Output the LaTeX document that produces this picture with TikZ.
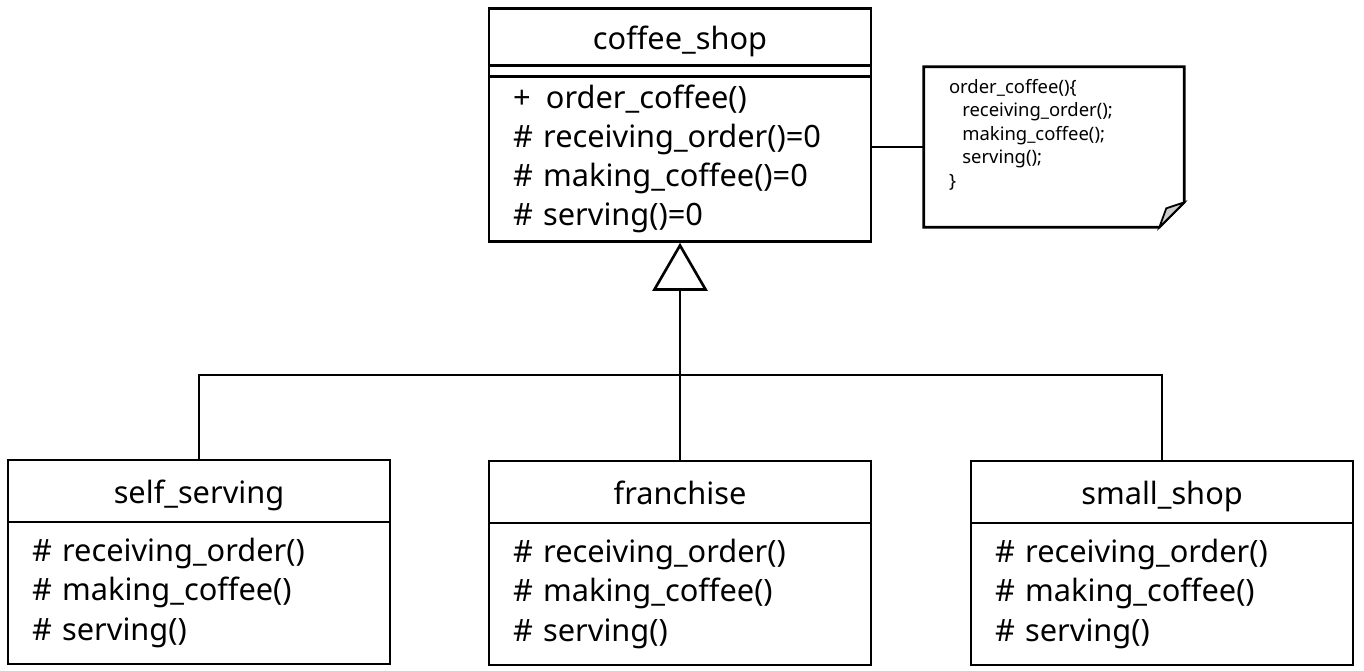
\documentclass[tikz,border=0pt]{standalone}
\usepackage{fontspec}
\setmainfont{Noto Sans}
\usepackage{tikz}
\usetikzlibrary{calc, positioning, arrows.meta}

\begin{document}
\begin{tikzpicture}[x=0.02cm, y=0.02cm, line width=1.5pt,
    classname/.style={draw, minimum width=7.64cm, inner sep=0pt, text height=1.65em, text depth=0.2em,
      font=\fontsize{17.5}{22}\selectfont},
    classband/.style={draw, minimum width=7.64cm, inner sep=0pt, text height=0pt, text depth=0pt},
    classops/.style={draw, minimum width=7.64cm, text width=6.68cm, inner xsep=0.48cm, inner ysep=0pt,
      align=left, font=\fontsize{17.5}{22.3}\selectfont},
    notetext/.style={align=left, inner sep=0pt, font=\fontsize{10.5}{13.4}\selectfont}]
  \useasboundingbox (0,0) rectangle (1364,-670);

  %► Base class
  \node[classname, minimum height=1.14cm] (shop) at (680,-37) {coffee\_shop};
  \node[classband, minimum height=0.22cm, below=-1.5pt of shop] (shopattr) {};
  \node[classops, minimum height=3.3cm, below=-1.5pt of shopattr] (shopops)
    {+\, order\_coffee()\\\# receiving\_order()=0\\\# making\_coffee()=0\\\# serving()=0};

  %► Note with folded corner
  \node[minimum width=5.16cm, minimum height=3.16cm, inner sep=0pt] (note) at (1054,-147) {};
  \draw (note.north west) -- (note.north east) -- ($(note.south east)+(0,25)$)
    -- ($(note.south east)+(-25,0)$) -- (note.south west) -- cycle;
  \filldraw[fill=gray!40, line width=1pt] ($(note.south east)+(0,25)$) -- ($(note.south east)+(-18,19)$)
    -- ($(note.south east)+(-25,0)$) -- cycle;
  \node[notetext, anchor=north west] (notebody) at ($(note.north west)+(24,-11)$)
    {order\_coffee()\{\\\hspace*{0.72em}receiving\_order();\\\hspace*{0.72em}making\_coffee();\\\hspace*{0.72em}serving();\\\}};
  \draw (shopops.east |- note.west) -- (note.west);

  %► Derived classes
  \node[classname, minimum height=1.24cm] (self) at (199,-491) {self\_serving};
  \node[classops, minimum height=2.84cm, below=-1.5pt of self] (selfops)
    {\# receiving\_order()\\\# making\_coffee()\\\# serving()};
  \node[classname, minimum height=1.24cm] (fran) at (680,-492) {franchise};
  \node[classops, minimum height=2.84cm, below=-1.5pt of fran] (franops)
    {\# receiving\_order()\\\# making\_coffee()\\\# serving()};
  \node[classname, minimum height=1.24cm] (small) at (1162,-492) {small\_shop};
  \node[classops, minimum height=2.84cm, below=-1.5pt of small] (smallops)
    {\# receiving\_order()\\\# making\_coffee()\\\# serving()};

  %► Generalization
  \coordinate (hub) at (680,-375);
  \draw (self.north) |- (hub) -| (small.north);
  \draw[-{Triangle[open, length=0.96cm, width=1.1cm]}] (fran.north) -- (shopops.south);
\end{tikzpicture}
\end{document}
